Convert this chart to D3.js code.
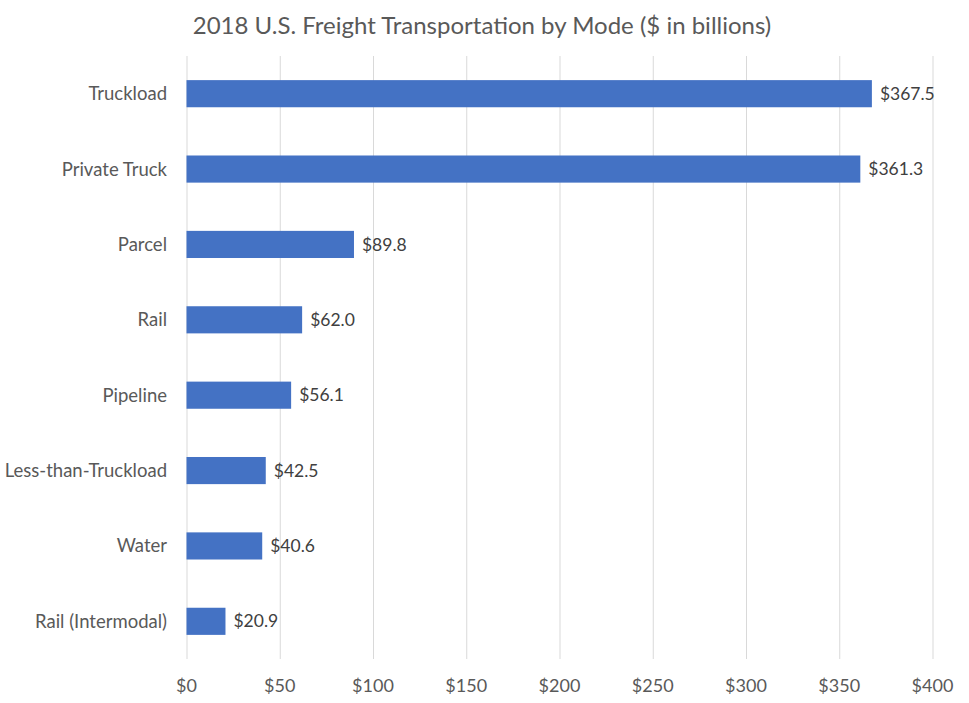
<!DOCTYPE html>
<html>
<head>
<meta charset="utf-8">
<script src="https://cdn.jsdelivr.net/npm/d3@7"></script>
<style>
  body { margin: 0; background: #fff; }
  text { font-family: Lato, "Open Sans", sans-serif; }
</style>
</head>
<body>
<div id="chart"></div>
<script>
const width = 969,
    height = 703;

const title = "2018 U.S. Freight Transportation by Mode ($ in billions)";
const modes = ["Truckload", "Private Truck", "Parcel", "Rail", "Pipeline",
  "Less-than-Truckload", "Water", "Rail (Intermodal)"];
const spend = [367.5, 361.3, 89.8, 62.0, 56.1, 42.5, 40.6, 20.9];
const ticks = [0, 50, 100, 150, 200, 250, 300, 350, 400];

const data = modes.map((m, i) => ({ mode: m, value: spend[i] }));

const margin = { top: 56, right: 36, bottom: 44, left: 186.5 };

const svg = d3.select("#chart")
  .append("svg")
  .attr("width", width)
  .attr("height", height);

const x = d3.scaleLinear()
  .domain([0, 400])
  .range([margin.left, 932.5]);

const y = d3.scaleBand()
  .domain(modes)
  .range([margin.top, 659])
  .paddingInner(0.64)
  .paddingOuter(0.32);

// grid
svg.append("g")
  .selectAll("line")
  .data(ticks)
  .join("line")
    .attr("x1", d => x(d) + 0.5)
    .attr("x2", d => x(d) + 0.5)
    .attr("y1", margin.top)
    .attr("y2", 659)
    .attr("stroke", "#d9d9d9")
    .attr("stroke-width", 1);

// tick labels
svg.append("g")
  .selectAll("text")
  .data(ticks)
  .join("text")
    .attr("x", d => x(d))
    .attr("y", 686)
    .attr("dy", "0.35em")
    .attr("text-anchor", "middle")
    .attr("fill", "#595959")
    .style("font-size", "18px")
    .text(d => "$" + d);

// bars
svg.append("g")
  .selectAll("rect")
  .data(data)
  .join("rect")
    .attr("x", x(0))
    .attr("y", d => y(d.mode))
    .attr("width", d => x(d.value) - x(0))
    .attr("height", y.bandwidth())
    .attr("fill", "#4472c4");

// category labels
svg.append("g")
  .selectAll("text")
  .data(data)
  .join("text")
    .attr("x", 167)
    .attr("y", d => y(d.mode) + y.bandwidth() / 2)
    .attr("dy", "0.35em")
    .attr("text-anchor", "end")
    .attr("fill", "#595959")
    .style("font-size", "18.5px")
    .text(d => d.mode);

// value labels
svg.append("g")
  .selectAll("text")
  .data(data)
  .join("text")
    .attr("x", d => x(d.value) + 8)
    .attr("y", d => y(d.mode) + y.bandwidth() / 2)
    .attr("dy", "0.35em")
    .attr("fill", "#404040")
    .style("font-size", "17.5px")
    .text(d => "$" + d.value.toFixed(1));

svg.append("text")
  .attr("x", 482)
  .attr("y", 26)
  .attr("dy", "0.35em")
  .attr("text-anchor", "middle")
  .attr("fill", "#595959")
  .style("font-size", "24px")
  .text(title);
</script>
</body>
</html>
